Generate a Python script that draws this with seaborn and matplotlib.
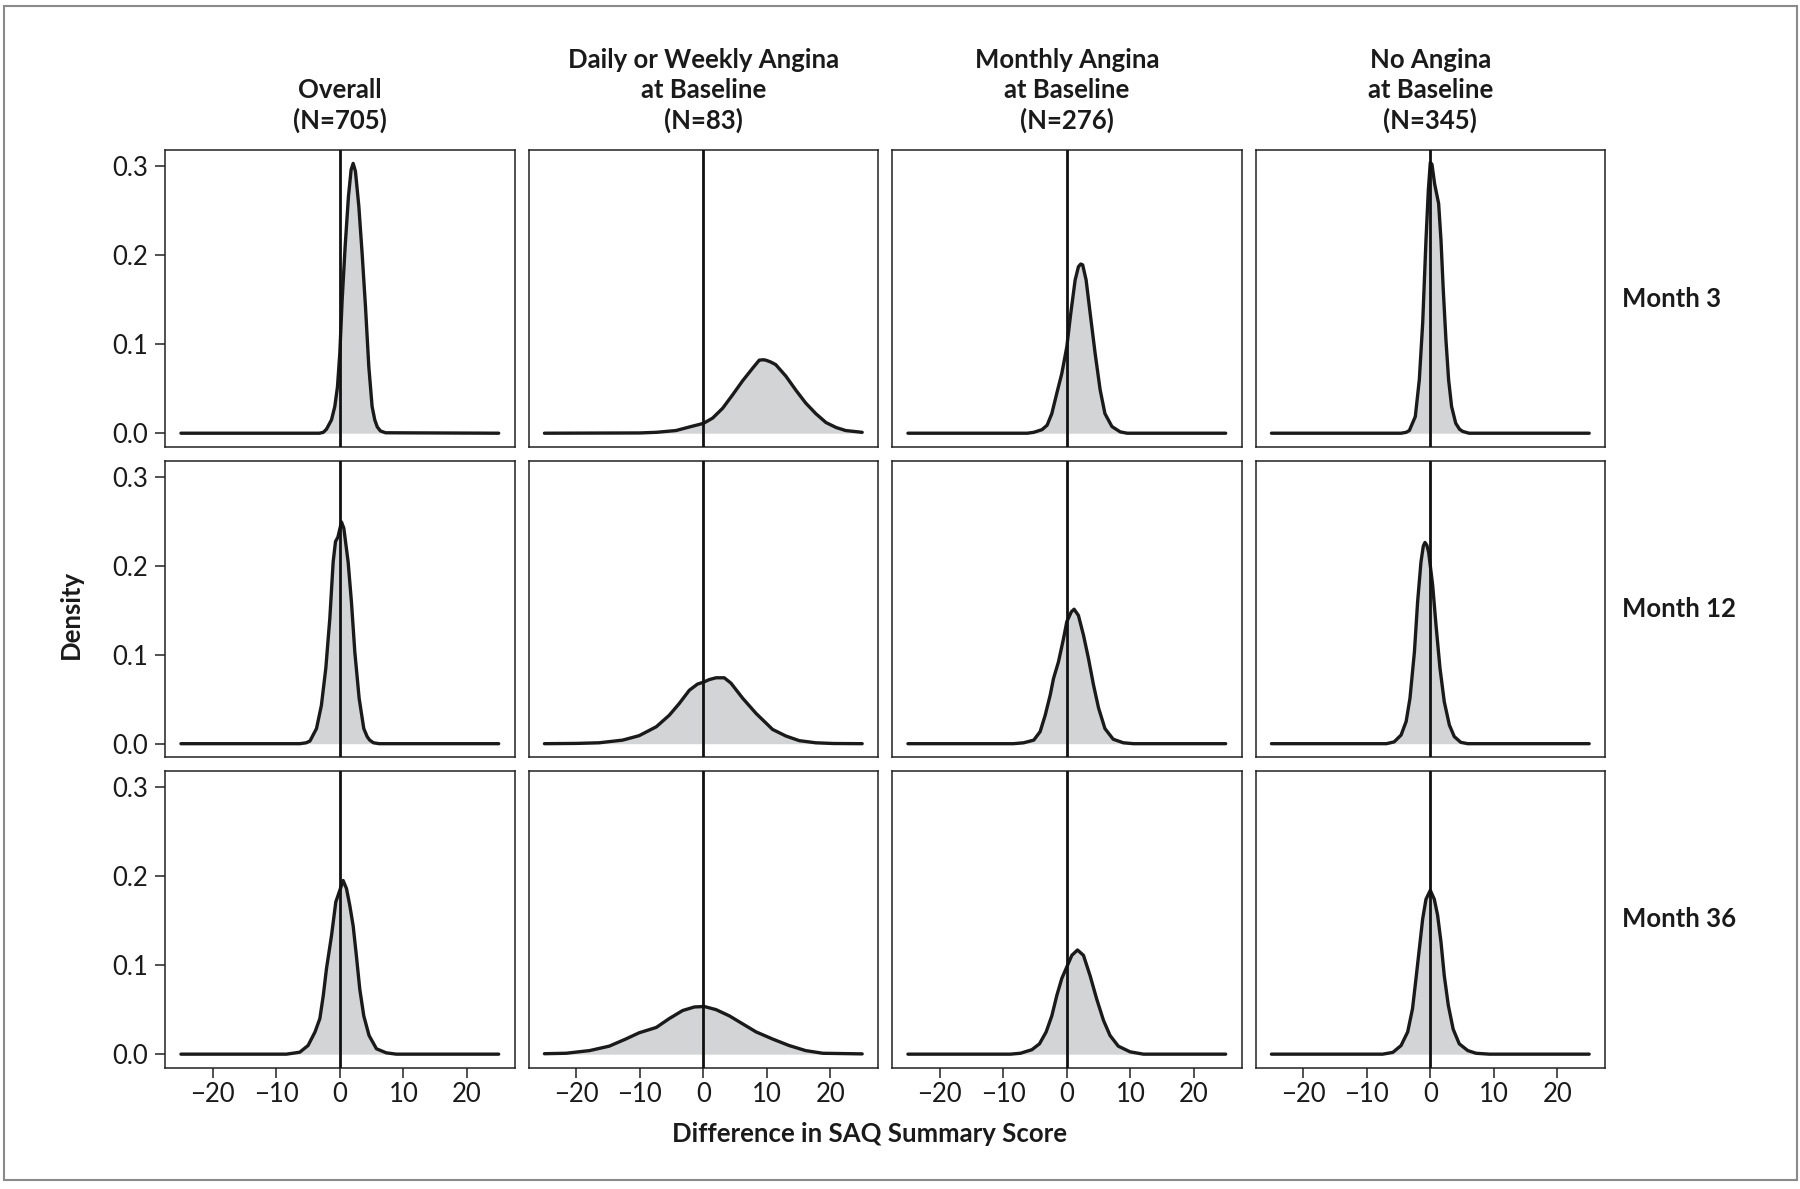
import matplotlib
matplotlib.use("Agg")
import matplotlib.pyplot as plt
import seaborn as sns
import pandas as pd
from matplotlib.patches import Rectangle

# ---------------- data ----------------
groups = ["Overall\n(N=705)",
          "Daily or Weekly Angina\nat Baseline\n(N=83)",
          "Monthly Angina\nat Baseline\n(N=276)",
          "No Angina\nat Baseline\n(N=345)"]
months = ["Month 3", "Month 12", "Month 36"]
y_ticks = [0.0, 0.1, 0.2, 0.3]
y_tick_labels = ["0.0", "0.1", "0.2", "0.3"]
x_ticks = [-20, -10, 0, 10, 20]

# Month 3
overall_m3_x = [-25, -3.2, -2.6, -2.1, -1.31, -0.79, -0.37, 0, 0.37, 0.84, 1.36, 1.78, 2.1, 2.46, 2.99, 3.51, 4.04, 4.56, 5.08, 5.5, 5.9, 6.4, 7.2, 25]
overall_m3_y = [0, 0, 0.001, 0.0045, 0.015, 0.030, 0.052, 0.090, 0.150, 0.210, 0.266, 0.296, 0.303, 0.294, 0.255, 0.202, 0.142, 0.075, 0.030, 0.015, 0.007, 0.0025, 0.0005, 0]
daily_m3_x = [-25, -10.0, -7.4, -4.3, -2.2, 0, 1.47, 3.04, 4.6, 6.2, 7.76, 8.8, 9.4, 9.85, 10.6, 11.4, 13.0, 14.6, 16.1, 17.7, 19.3, 20.9, 22.4, 25]
daily_m3_y = [0, 0.0003, 0.001, 0.003, 0.007, 0.011, 0.017, 0.028, 0.043, 0.059, 0.073, 0.082, 0.0825, 0.082, 0.080, 0.077, 0.064, 0.048, 0.034, 0.022, 0.012, 0.0064, 0.003, 0.001]
monthly_m3_x = [-25, -6.2, -5.2, -3.9, -3.1, -2.36, -1.57, -0.79, 0, 0.63, 1.31, 1.83, 2.2, 2.5, 3.04, 3.67, 4.45, 5.24, 6.0, 7.1, 8.4, 9.5, 25]
monthly_m3_y = [0, 0, 0.001, 0.004, 0.009, 0.022, 0.045, 0.067, 0.097, 0.135, 0.172, 0.187, 0.190, 0.189, 0.172, 0.135, 0.090, 0.049, 0.022, 0.0075, 0.0015, 0, 0]
none_m3_x = [-25, -4.6, -3.8, -3.3, -2.36, -1.73, -1.2, -0.68, -0.31, 0, 0.26, 0.68, 1.31, 1.68, 2.04, 2.46, 2.88, 3.35, 4.0, 4.6, 5.1, 6.1, 25]
none_m3_y = [0, 0, 0.001, 0.003, 0.0187, 0.060, 0.1235, 0.217, 0.273, 0.304, 0.302, 0.280, 0.258, 0.217, 0.161, 0.105, 0.060, 0.030, 0.0112, 0.0045, 0.002, 0, 0]

# Month 12
overall_m12_x = [-25, -6.3, -5.3, -4.7, -3.67, -2.9, -2.2, -1.57, -1.05, -0.68, -0.3, 0.26, 0.63, 1.31, 1.83, 2.36, 3.04, 3.77, 4.3, 4.7, 5.3, 6.2, 25]
overall_m12_y = [0, 0, 0.001, 0.003, 0.017, 0.043, 0.085, 0.141, 0.204, 0.227, 0.232, 0.249, 0.242, 0.204, 0.159, 0.103, 0.051, 0.017, 0.008, 0.004, 0.001, 0, 0]
daily_m12_x = [-25, -20.0, -16.4, -12.7, -10.1, -7.4, -5.35, -3.8, -2.2, -0.9, 0, 0.94, 2.0, 3.3, 4.35, 6.2, 8.3, 10.9, 13.0, 15.1, 17.7, 20.5, 25]
daily_m12_y = [0, 0.0003, 0.001, 0.004, 0.009, 0.019, 0.032, 0.045, 0.060, 0.067, 0.069, 0.072, 0.074, 0.074, 0.068, 0.051, 0.034, 0.016, 0.0086, 0.0034, 0.001, 0.0002, 0]
monthly_m12_x = [-25, -8.4, -6.8, -5.2, -4.2, -3.4, -2.6, -2.1, -1.31, -0.52, 0, 0.26, 0.7, 1.15, 1.83, 2.62, 3.4, 4.2, 5.0, 6.0, 7.3, 8.9, 10.5, 25]
monthly_m12_y = [0, 0, 0.001, 0.004, 0.0135, 0.032, 0.055, 0.073, 0.092, 0.118, 0.137, 0.141, 0.148, 0.151, 0.144, 0.122, 0.096, 0.066, 0.040, 0.017, 0.005, 0.001, 0, 0]
none_m12_x = [-25, -6.9, -5.7, -4.6, -3.8, -3.2, -2.5, -2.0, -1.47, -1.1, -0.84, -0.55, -0.26, 0.37, 0.9, 1.52, 2.2, 3.0, 3.77, 4.8, 5.9, 25]
none_m12_y = [0, 0, 0.002, 0.0097, 0.025, 0.051, 0.103, 0.159, 0.204, 0.222, 0.226, 0.223, 0.215, 0.178, 0.133, 0.085, 0.047, 0.021, 0.008, 0.0015, 0, 0]

# Month 36
overall_m36_x = [-25, -8.4, -6.3, -5.0, -3.9, -3.14, -2.6, -2.1, -1.31, -0.63, 0, 0.52, 1.05, 1.57, 2.1, 2.6, 3.14, 3.77, 4.6, 5.77, 7.3, 8.9, 25]
overall_m36_y = [0, 0, 0.0022, 0.0097, 0.025, 0.040, 0.066, 0.096, 0.133, 0.171, 0.184, 0.195, 0.186, 0.167, 0.144, 0.111, 0.073, 0.043, 0.021, 0.006, 0.0015, 0, 0]
daily_m36_x = [-25, -21.6, -17.9, -14.8, -12.2, -10.1, -7.4, -5.35, -3.25, -1.4, 0.16, 2.0, 4.1, 6.2, 8.3, 10.9, 13.5, 16.1, 18.8, 25]
daily_m36_y = [0.0005, 0.001, 0.004, 0.009, 0.017, 0.024, 0.030, 0.040, 0.049, 0.053, 0.0535, 0.050, 0.043, 0.034, 0.025, 0.017, 0.0097, 0.004, 0.001, 0.0003]
monthly_m36_x = [-25, -8.9, -7.3, -5.5, -4.3, -3.25, -2.36, -1.57, -0.79, 0, 0.79, 1.68, 2.62, 3.67, 4.7, 5.77, 6.8, 8.1, 9.96, 12.05, 25]
monthly_m36_y = [0, 0, 0.001, 0.005, 0.0116, 0.025, 0.043, 0.066, 0.085, 0.098, 0.111, 0.117, 0.111, 0.088, 0.062, 0.038, 0.021, 0.009, 0.0026, 0, 0]
none_m36_x = [-25, -7.5, -5.9, -4.6, -3.56, -2.8, -2.25, -1.73, -1.2, -0.68, 0, 0.63, 1.15, 1.68, 2.2, 2.83, 3.6, 4.56, 5.9, 7.2, 9.3, 25]
none_m36_y = [0, 0, 0.002, 0.0097, 0.025, 0.051, 0.085, 0.118, 0.152, 0.174, 0.184, 0.174, 0.156, 0.126, 0.088, 0.055, 0.028, 0.0116, 0.004, 0.001, 0, 0]

curves = [
    [(overall_m3_x, overall_m3_y), (daily_m3_x, daily_m3_y), (monthly_m3_x, monthly_m3_y), (none_m3_x, none_m3_y)],
    [(overall_m12_x, overall_m12_y), (daily_m12_x, daily_m12_y), (monthly_m12_x, monthly_m12_y), (none_m12_x, none_m12_y)],
    [(overall_m36_x, overall_m36_y), (daily_m36_x, daily_m36_y), (monthly_m36_x, monthly_m36_y), (none_m36_x, none_m36_y)],
]

# ---------------- style ----------------
sns.set_style("ticks")
plt.rcParams['font.family'] = ['Lato', 'DejaVu Sans']
plt.rcParams['axes.unicode_minus'] = True

LINE = "#1a1a1a"
FILL = "#d3d4d6"
FS = 18.5
TFS = 18.5

fig, axes = plt.subplots(3, 4, figsize=(18, 11.89), dpi=100, sharex=True, sharey=True)
fig.subplots_adjust(left=0.0917, right=0.8917, top=0.8738, bottom=0.1018,
                    wspace=0.040, hspace=0.0455)

for r in range(3):
    for c in range(4):
        ax = axes[r, c]
        xs, ys = curves[r][c]
        df = pd.DataFrame({"x": xs, "density": ys})
        ax.fill_between(df["x"], 0, df["density"], color=FILL, lw=0, zorder=1)
        sns.lineplot(data=df, x="x", y="density", ax=ax, color=LINE, lw=2.4,
                     sort=False, estimator=None, zorder=3)
        ax.axvline(0, color="#111111", lw=2.0, zorder=4)
        ax.set_xlim(-27.5, 27.5)
        ax.set_ylim(-0.0155, 0.318)
        ax.set_xlabel("")
        ax.set_ylabel("")
        for sp in ax.spines.values():
            sp.set_visible(True)
            sp.set_color("#222222")
            sp.set_linewidth(1.1)
        ax.set_xticks(x_ticks)
        ax.set_yticks(y_ticks)
        ax.set_yticklabels(y_tick_labels)
        ax.tick_params(axis="both", direction="out", length=7.2, width=1.1,
                       color="#222222", labelsize=TFS, labelcolor="#1a1a1a")
        ax.tick_params(axis="y", pad=5)
        ax.tick_params(axis="x", pad=3)
        if c != 0:
            ax.tick_params(axis="y", length=0, labelleft=False)
        if r != 2:
            ax.tick_params(axis="x", length=0, labelbottom=False)
        if r == 0:
            ax.set_title(groups[c], fontsize=FS, fontweight="bold", pad=15,
                         linespacing=1.3, color="#1a1a1a")
        if c == 3:
            ax.text(1.048, 0.5, months[r], transform=ax.transAxes, ha="left",
                    va="center", fontsize=FS, fontweight="bold", color="#1a1a1a")

fig.text(71 / 1800, 1 - 614 / 1189, "Density", rotation=90, ha="center", va="center",
         fontsize=FS, fontweight="bold", color="#1a1a1a")
fig.text(869 / 1800, 1 - 1134 / 1189, "Difference in SAQ Summary Score", ha="center",
         va="center", fontsize=FS, fontweight="bold", color="#1a1a1a")

fig.patches.append(Rectangle((3.5 / 1800, 1 - 1180 / 1189), (1797 - 3.5) / 1800, (1180 - 5.7) / 1189,
                             transform=fig.transFigure, fill=False, edgecolor="#8a8a8a", lw=1.5))

fig.savefig("out.png", dpi=100, facecolor="white")
